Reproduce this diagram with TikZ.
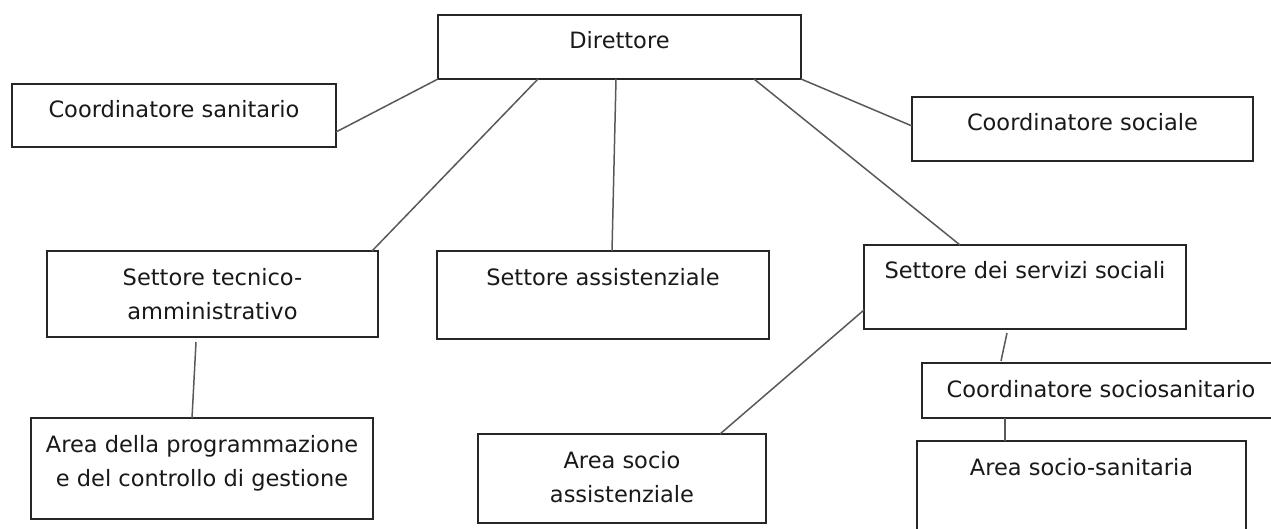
\documentclass[tikz,border=0pt]{standalone}
\usepackage{fontspec}
\setmainfont{DejaVu Sans}
\newcommand{\boxtext}[3]{\parbox[c][#2][t]{#1}{\centering\fontsize{22.5}{34}\selectfont\rule{0pt}{34pt}#3}}
\tikzset{
  orgbox/.style={draw=black!85, line width=1.6pt, inner sep=0pt, outer sep=0pt, anchor=north west, text=black!90},
  link/.style={draw=black!65, line width=1.5pt}
}
\begin{document}
\begin{tikzpicture}[x=1pt,y=-1pt]
\useasboundingbox (0,0) rectangle (1271,529);
\clip (0,0) rectangle (1271,529);
\fill[white] (0,0) rectangle (1271,529);
\node[orgbox] (D)   at (438,15)  {\boxtext{363pt}{64pt}{Direttore}};
\node[orgbox] (CS)  at (12,84)   {\boxtext{324pt}{63pt}{Coordinatore sanitario}};
\node[orgbox] (CSo) at (912,97)  {\boxtext{341pt}{64pt}{Coordinatore sociale}};
\node[orgbox] (ST)  at (47,251)  {\boxtext{331pt}{86pt}{Settore tecnico-\\amministrativo}};
\node[orgbox] (SA)  at (437,251) {\boxtext{332pt}{88pt}{Settore assistenziale}};
\node[orgbox] (SS)  at (864,245) {\boxtext{322pt}{84pt}{Settore dei servizi sociali}};
\node[orgbox] (AP)  at (31,418)  {\boxtext{342pt}{101pt}{Area della programmazione\\e del controllo di gestione}};
\node[orgbox] (ASA) at (478,434) {\boxtext{288pt}{89pt}{Area socio\\assistenziale}};
\node[orgbox] (CSS) at (922,363) {\boxtext{358pt}{55pt}{Coordinatore sociosanitario}};
\node[orgbox] (ASS) at (917,441) {\boxtext{329pt}{110pt}{Area socio-sanitaria}};
\draw[link] (D.south west) -- ([yshift=15pt]CS.south east);
\draw[link] ([xshift=100pt]D.south west) -- ([xshift=-6pt]ST.north east);
\draw[link] ([xshift=178pt]D.south west) -- ([xshift=175pt]SA.north west);
\draw[link] ([xshift=316pt]D.south west) -- ([xshift=96pt]SS.north west);
\draw[link] (D.south east) -- ([yshift=3pt]CSo.west);
\draw[link] ([xshift=149pt,yshift=-5pt]ST.south west) -- ([xshift=161pt]AP.north west);
\draw[link] ([yshift=19pt]SS.south west) -- ([xshift=242pt]ASA.north west);
\draw[link] ([xshift=143pt,yshift=-4pt]SS.south west) -- ([xshift=79pt,yshift=2pt]CSS.north west);
\draw[link] ([xshift=83pt]CSS.south west) -- ([xshift=88pt]ASS.north west);
\end{tikzpicture}
\end{document}
